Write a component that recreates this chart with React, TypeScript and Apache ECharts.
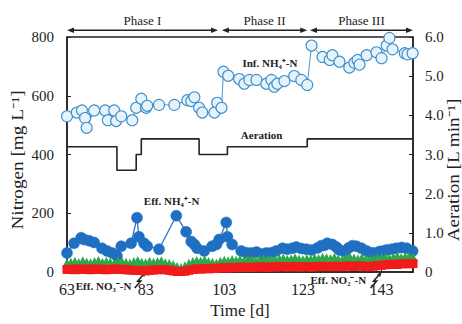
import React, { useEffect, useRef } from 'react';
import * as echarts from 'echarts';

const FONT = 'Liberation Serif, Times New Roman, serif';

// x-axis tick labels (days)
const xTicks = [63, 83, 103, 123, 143];

// Phases: [label, startDay, endDay]
const phaseLabels = ['Phase I', 'Phase II', 'Phase III'];
const phaseStart = [63, 102.4, 124.8];
const phaseEnd = [101.4, 124.1, 151];

// Influent NH4+-N
const infDays = [63, 65.5, 66.8, 67.6, 68.0, 69.9, 72.7, 73.4, 75, 75.5, 76.8, 79.6, 80.6, 81.9, 83.1, 83.4, 86.4, 90.3, 93.6, 94.6, 95.4, 96.6, 97.4, 100.5, 101.2, 102.3, 102.8, 104, 106.8, 108.1, 109.4, 111.2, 113.7, 115, 115.7, 116.5, 118.3, 120.8, 122.6, 124.1, 125.2, 128, 129.8, 130.5, 132.3, 134.8, 136.1, 136.9, 137.4, 139.2, 141.7, 143, 144.3, 145, 145.8, 148.9, 149.6, 150.9];
const infNH4 = [530, 543, 550, 524, 491, 550, 550, 517, 550, 514, 530, 517, 559, 590, 559, 566, 569, 569, 585, 582, 595, 559, 543, 543, 576, 559, 682, 668, 657, 641, 654, 654, 641, 654, 631, 641, 650, 667, 654, 637, 771, 732, 722, 738, 716, 696, 712, 722, 706, 738, 748, 728, 771, 797, 758, 745, 741, 745];

// Effluent NH4+-N
const effNH4Days = [63, 64.8, 66.6, 67.3, 68.6, 69.9, 71.9, 73.2, 74.5, 75.7, 76.8, 79.3, 80.8, 81.3, 82.6, 83.4, 86.4, 90.8, 93.3, 94.6, 95.4, 96.1, 97.9, 99.9, 101, 101.7, 103.5, 103.8, 105, 107.3, 108.6, 109.9, 111.2, 112.7, 113.7, 115, 116.2, 117.8, 119, 120.3, 121.3, 122.6, 123.9, 125.2, 126.7, 127.7, 128.5, 129.2, 130.5, 131.5, 132.3, 133.6, 134.6, 135.6, 136.6, 137.9, 139.2, 140.2, 141.2, 142.5, 143.5, 144.3, 145.6, 146.8, 148.1, 149.4, 150.9];
const effNH4 = [65, 98, 117, 111, 107, 101, 81, 72, 65, 55, 88, 98, 185, 120, 98, 88, 78, 192, 137, 104, 94, 81, 72, 88, 94, 111, 169, 120, 94, 72, 66, 65, 68, 62, 65, 66, 72, 81, 78, 81, 85, 80, 78, 75, 82, 90, 91, 98, 94, 85, 75, 70, 82, 90, 88, 81, 72, 66, 65, 70, 72, 75, 78, 81, 84, 81, 72];

// Effluent NO2- / NO3- (daily)
const noDays = [63, 64, 65, 66, 67, 68, 69, 70, 71, 72, 73, 74, 75, 76, 77, 78, 79, 80, 81, 82, 83, 84, 85, 86, 87, 88, 89, 90, 91, 92, 93, 94, 95, 96, 97, 98, 99, 100, 101, 102, 103, 104, 105, 106, 107, 108, 109, 110, 111, 112, 113, 114, 115, 116, 117, 118, 119, 120, 121, 122, 123, 124, 125, 126, 127, 128, 129, 130, 131, 132, 133, 134, 135, 136, 137, 138, 139, 140, 141, 142, 143, 144, 145, 146, 147, 148, 149, 150, 151];
const effNO2 = [30, 32, 35, 31, 37, 33, 30, 34, 38, 32, 35, 33, 30, 36, 34, 32, 29, 34, 38, 32, 30, 35, 32, 34, 37, 30, 28, 24, 17, 14, 20, 28, 34, 38, 36, 40, 34, 32, 29, 35, 39, 37, 41, 39, 42, 38, 43, 41, 39, 42, 44, 40, 43, 41, 45, 46, 42, 44, 47, 43, 41, 45, 43, 47, 45, 49, 47, 45, 49, 44, 42, 47, 50, 46, 44, 48, 43, 41, 45, 47, 48, 50, 46, 50, 53, 48, 51, 53, 50];
const effNO3 = [9, 10, 8, 11, 9, 10, 8, 11, 9, 10, 8, 9, 11, 9, 10, 8, 7, 6, 6, 5, 4, 6, 7, 8, 9, 8, 6, 4, 2, 2, 3, 6, 9, 11, 10, 12, 11, 13, 12, 14, 15, 14, 16, 15, 17, 16, 15, 17, 16, 18, 17, 16, 18, 17, 19, 18, 17, 19, 18, 17, 19, 18, 17, 19, 18, 20, 19, 18, 20, 19, 18, 21, 20, 19, 21, 20, 19, 18, 20, 22, 23, 25, 26, 27, 26, 28, 29, 28, 29];

// Aeration rate (step changes)
const aerDays = [63, 75.7, 80.6, 81.9, 96.6, 103.8, 124.1, 151];
const aerRate = [3.2, 2.6, 3.0, 3.4, 3.0, 3.2, 3.4, 3.4];

const zip = (a: number[], b: number[]) => a.map((d, i) => [d, b[i]]);

const axisColor = '#222';

export default function App() {
  const ref = useRef<HTMLDivElement>(null);
  useEffect(() => {
    const chart = echarts.init(ref.current!, null, { renderer: 'svg' });
    const option: any = {
      animation: false,
      textStyle: { fontFamily: FONT },
      grid: { left: 67, right: 49, top: 37, bottom: 42, show: true, borderColor: axisColor, borderWidth: 1.5, backgroundColor: 'transparent' },
      xAxis: {
        type: 'value', min: 63, max: 151,
        axisLine: { show: true, lineStyle: { color: axisColor, width: 1.5 } },
        axisTick: { show: true, inside: true, length: 4, customValues: xTicks, lineStyle: { color: axisColor } },
        axisLabel: { customValues: xTicks, fontFamily: FONT, fontSize: 16, color: axisColor, margin: 9 },
        splitLine: { show: false },
        name: 'Time [d]', nameLocation: 'middle', nameGap: 26,
        nameTextStyle: { fontFamily: FONT, fontSize: 17, color: axisColor },
      },
      yAxis: [
        {
          type: 'value', min: 0, max: 800, interval: 200,
          axisLine: { show: true, lineStyle: { color: axisColor, width: 1.5 } },
          axisTick: { show: true, inside: true, length: 4, lineStyle: { color: axisColor } },
          axisLabel: { fontFamily: FONT, fontSize: 15, color: axisColor, margin: 13 },
          splitLine: { show: false },
        },
        {
          type: 'value', min: 0, max: 6, interval: 1, position: 'right',
          axisLine: { show: true, lineStyle: { color: axisColor, width: 1.5 } },
          axisTick: { show: true, inside: true, length: 4, lineStyle: { color: axisColor } },
          axisLabel: { fontFamily: FONT, fontSize: 15, color: axisColor, margin: 12, formatter: (v: number) => (v === 0 ? '0' : v.toFixed(1)) },
          splitLine: { show: false },
        },
      ],
      series: [
        {
          name: 'Aeration', type: 'line', yAxisIndex: 1, step: 'end', showSymbol: false, symbol: 'none',
          data: zip(aerDays, aerRate), lineStyle: { color: axisColor, width: 1.6 }, clip: false,
        },
        {
          name: 'Inf. NH4+-N', type: 'line', data: zip(infDays, infNH4), symbol: 'circle', symbolSize: 11,
          itemStyle: { color: '#e6f3fb', borderColor: '#3f8fca', borderWidth: 1.1 },
          lineStyle: { color: '#4b97cf', width: 1 }, clip: false,
        },
        {
          name: 'Eff. NH4+-N', type: 'line', data: zip(effNH4Days, effNH4), symbol: 'circle', symbolSize: 11,
          itemStyle: { color: '#1f6fc2', borderColor: '#1f6fc2', borderWidth: 0.5 },
          lineStyle: { color: '#2a74c2', width: 1.3 }, clip: false,
        },
        {
          name: 'Eff. NO2--N', type: 'line', data: zip(noDays, effNO2), symbol: 'triangle', symbolSize: 10,
          itemStyle: { color: '#2da84a' }, lineStyle: { color: '#2da84a', width: 1 }, clip: false,
        },
        {
          name: 'Eff. NO3--N', type: 'line', data: zip(noDays, effNO3), symbol: 'rect', symbolSize: 9,
          itemStyle: { color: '#f21b1b' }, lineStyle: { color: '#f21b1b', width: 1 }, clip: false,
        },
      ],
    };
    chart.setOption(option);

    const px = (d: number, v: number) => chart.convertToPixel({ xAxisIndex: 0, yAxisIndex: 0 }, [d, v]) as number[];
    const g: any[] = [];
    const txt = (x: number, y: number, text: string, size: number, bold: boolean) => ({
      type: 'text', x, y, silent: true,
      style: { text, fontFamily: FONT, fontSize: size, fontWeight: bold ? 'bold' : 'normal', fill: axisColor, align: 'center', verticalAlign: 'middle' },
    });

    // phase arrows
    phaseLabels.forEach((label, i) => {
      const a = px(phaseStart[i], 823);
      const b = px(phaseEnd[i], 823);
      const y = a[1];
      g.push({ type: 'line', silent: true, shape: { x1: a[0] + 4, y1: y, x2: b[0] - 4, y2: y }, style: { stroke: axisColor, lineWidth: 1.3 } });
      g.push({ type: 'polygon', silent: true, shape: { points: [[a[0], y], [a[0] + 7, y - 2.8], [a[0] + 7, y + 2.8]] }, style: { fill: axisColor } });
      g.push({ type: 'polygon', silent: true, shape: { points: [[b[0], y], [b[0] - 7, y - 2.8], [b[0] - 7, y + 2.8]] }, style: { fill: axisColor } });
      g.push(txt((a[0] + b[0]) / 2, px(phaseStart[i], 856)[1], label, 13, false));
    });

    // series labels
    const p1 = px(114.6, 712);
    g.push(txt(p1[0], p1[1], 'Inf. NH₄⁺-N', 11, true));
    const p2 = px(112.5, 465);
    g.push(txt(p2[0], p2[1], 'Aeration', 11, true));
    const p3 = px(89.6, 241);
    g.push(txt(p3[0], p3[1], 'Eff. NH₄⁺-N', 11, true));
    const p4 = px(72.3, -46);
    g.push(txt(p4[0], p4[1], 'Eff. NO₃⁻-N', 11, true));
    const p5 = px(132, -28);
    g.push(txt(p5[0], p5[1], 'Eff. NO₂⁻-N', 11, true));

    // zigzag arrows
    const zig = (d: number) => {
      const o = px(d, 0);
      const x = o[0], y = o[1];
      g.push({ type: 'polyline', silent: true, shape: { points: [[x - 5, y + 16], [x + 1, y + 9], [x - 2, y + 9], [x + 4, y + 2]] }, style: { stroke: axisColor, lineWidth: 1.6, fill: null } });
      g.push({ type: 'polygon', silent: true, shape: { points: [[x + 6, y + 0], [x + 1.5, y + 2.5], [x + 4.5, y + 5]] }, style: { fill: axisColor } });
    };
    zig(81.5);
    zig(141.5);

    // axis names
    g.push({
      type: 'text', x: 18, y: 160, rotation: Math.PI / 2, scaleX: 1.2, silent: true,
      style: { text: 'Nitrogen [mg L⁻¹]', fontFamily: FONT, fontSize: 16, fill: axisColor, align: 'center', verticalAlign: 'middle' },
    });
    g.push({
      type: 'text', x: 454, y: 170, rotation: Math.PI / 2, scaleX: 1.2, silent: true,
      style: { text: 'Aeration [L min⁻¹]', fontFamily: FONT, fontSize: 16, fill: axisColor, align: 'center', verticalAlign: 'middle' },
    });

    chart.setOption({ graphic: g });
    return () => chart.dispose();
  }, []);
  return <div ref={ref} style={{ position: 'absolute', left: 0, top: 0, width: 462, height: 324 }} />;
}
